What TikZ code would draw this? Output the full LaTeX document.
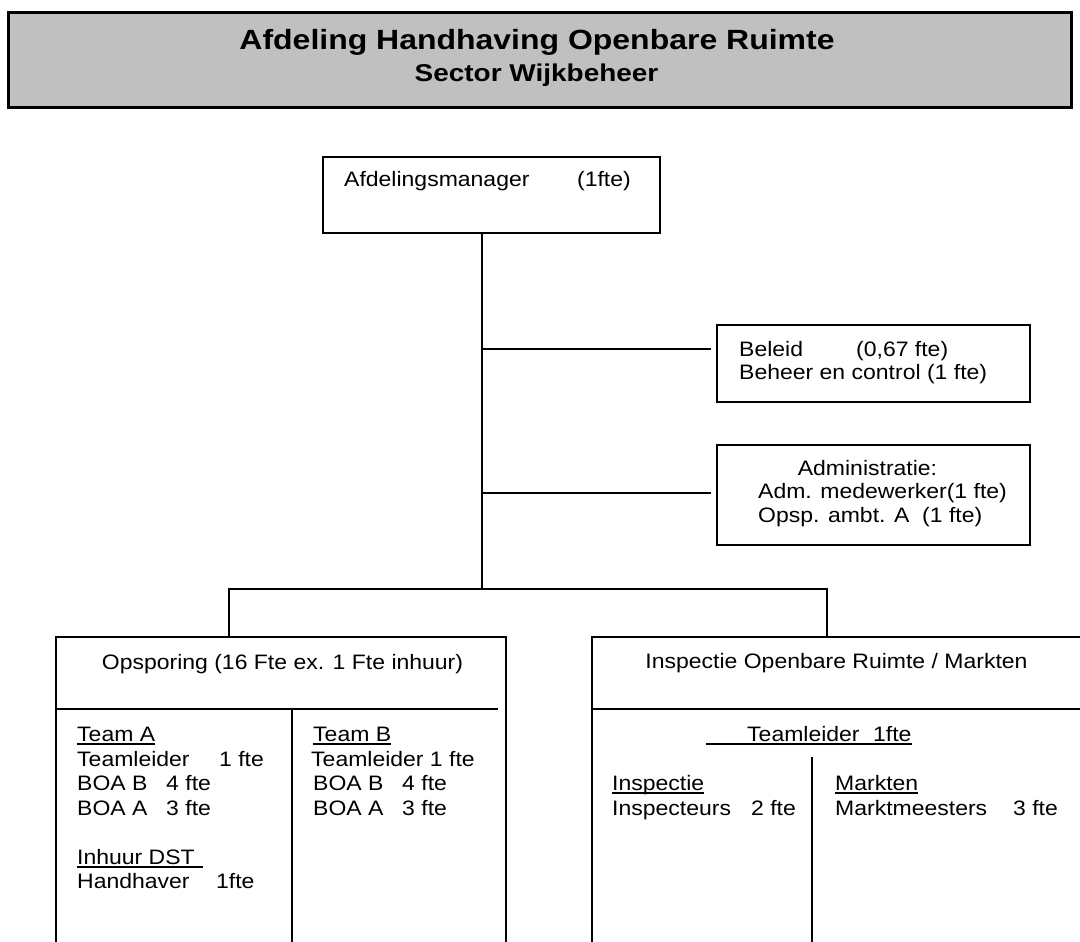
\documentclass[tikz,border=0pt]{standalone}
\usepackage{fontspec}
\setmainfont{Liberation Sans}[FakeStretch=1.1]
\newfontfamily\titlefont{Liberation Sans}[FakeStretch=1.15]
\definecolor{titlegray}{HTML}{C0C0C0}
\newlength\ulw
\newcommand\ult[1]{\settowidth\ulw{#1}\rlap{\rule[-3.5pt]{\ulw}{1.6pt}}#1}
\tikzset{
  orgbox/.style={draw, line width=2pt, rectangle, inner sep=0pt},
  txt/.style={anchor=base west, inner sep=0pt, font=\fontsize{20.9}{24}\selectfont},
  ctxt/.style={anchor=base, inner sep=0pt, font=\fontsize{20.9}{24}\selectfont},
  ln/.style={line width=2pt},
}
\begin{document}
\begin{tikzpicture}[x=1pt,y=-1pt]
\clip (0,0) rectangle (1080,942);
% title
\node[draw, line width=3pt, fill=titlegray, minimum width=1063pt, minimum height=95pt, inner sep=0pt] (title) at (539.5,60.5) {};
\node[anchor=base, inner sep=0pt, font=\titlefont\fontsize{27.8}{30}\selectfont\bfseries] (t1) at (537,49.3) {Afdeling Handhaving Openbare Ruimte};
\node[anchor=base, inner sep=0pt, font=\titlefont\fontsize{24.3}{27}\selectfont\bfseries] (t2) at (536.5,81.7) {Sector Wijkbeheer};
% manager
\node[orgbox, minimum width=337pt, minimum height=76pt] (mgr) at (491.5,195) {};
\node[txt] (mgrt) at (344,186) {\makebox[233pt][l]{Afdelingsmanager}(1fte)};
% beleid
\node[orgbox, minimum width=313pt, minimum height=77pt] (beleid) at (873.5,363.5) {};
\node[txt] (bel1) at (739,356) {\makebox[117pt][l]{Beleid}(0,67 fte)};
\node[txt] (bel2) at (739,379.5) {Beheer en control (1 fte)};
% admin
\node[orgbox, minimum width=313pt, minimum height=100pt] (admin) at (873.5,495) {};
\node[ctxt] (adm1) at (867.5,475) {Administratie:};
\node[txt] (adm2) at (758,498) {Adm. medewerker(1 fte)};
\node[txt] (adm3) at (758,522) {Opsp. ambt. A\ \ (1 fte)};
% trunk and branches
\coordinate (jb) at (482,349);
\coordinate (ja) at (482,493);
\coordinate (bus) at (482,589);
\coordinate (busL) at (229,589);
\coordinate (busR) at (827,589);
\draw[ln] (mgr.south -| bus) -- (bus);
\draw[ln, shorten >=5pt] (jb) -- (jb -| beleid.west);
\draw[ln, shorten >=5pt] (ja) -- (ja -| admin.west);
% opsporing
\node[orgbox, minimum width=450pt, minimum height=323pt] (opsp) at (281,798.5) {};
\draw[ln] (56,709) -- (498,709);
\draw[ln] (292,709) -- (292,960);
\node[ctxt] (opt) at (282.5,669) {Opsporing (16 Fte ex. 1 Fte inhuur)};
\node[txt] (a1) at (77,741) {\ult{Team A}};
\node[txt] (a2) at (77,766) {\makebox[142pt][l]{Teamleider}1 fte};
\node[txt] (a3) at (77,790) {\makebox[89pt][l]{BOA B}4 fte};
\node[txt] (a4) at (77,815) {\makebox[89pt][l]{BOA A}3 fte};
\node[txt] (a5) at (77,864) {\ult{Inhuur DST\hspace*{8pt}}};
\node[txt] (a6) at (77,888) {\makebox[139pt][l]{Handhaver}1fte};
\node[txt] (b1) at (313,741) {\ult{Team B}};
\node[txt] (b2) at (311,766) {Teamleider 1 fte};
\node[txt] (b3) at (313,790) {\makebox[89pt][l]{BOA B}4 fte};
\node[txt] (b4) at (313,815) {\makebox[89pt][l]{BOA A}3 fte};
% inspectie
\node[orgbox, minimum width=508pt, minimum height=323pt] (insp) at (846,798.5) {};
\draw[ln] (592,709) -- (1100,709);
\draw[ln] (812,757) -- (812,960);
\node[ctxt] (ipt) at (836.5,668) {Inspectie Openbare Ruimte / Markten};
\node[txt] (i0) at (706,741) {\ult{\hspace*{41pt}\makebox[126pt][l]{Teamleider}1fte}};
\node[txt] (i1) at (612,790) {\ult{Inspectie}};
\node[txt] (i2) at (612,815) {\makebox[139pt][l]{Inspecteurs}2 fte};
\node[txt] (m1) at (835,790) {\ult{Markten}};
\node[txt] (m2) at (835,815) {\makebox[178pt][l]{Marktmeesters}3 fte};
% bus
\draw[ln] (opsp.north -| busL) -- (busL) -- (busR) -- (insp.north -| busR);
\end{tikzpicture}
\end{document}
